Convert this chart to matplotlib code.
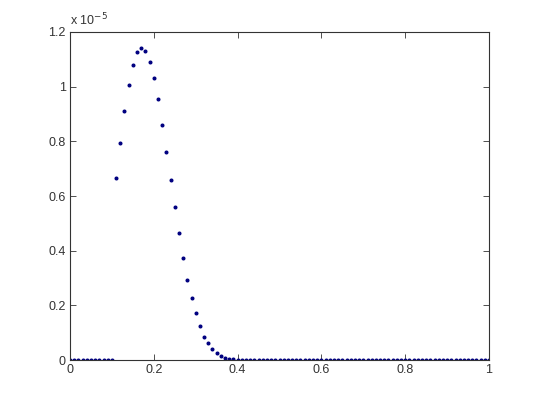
import numpy as np
import matplotlib
matplotlib.use("Agg")
import matplotlib.pyplot as plt
from matplotlib.ticker import FuncFormatter

# x samples (step 0.01) and y values in units of 1e-5
x = np.round(np.arange(0, 101) * 0.01, 2)
y_head = [0.0] * 11
y_peak = [0.665, 0.794, 0.910, 1.007, 1.080, 1.127, 1.143, 1.130, 1.092, 1.033,
          0.954, 0.861, 0.761, 0.660, 0.559, 0.463, 0.372, 0.293, 0.227, 0.171,
          0.124, 0.086, 0.061, 0.039, 0.024, 0.015, 0.008, 0.004, 0.002, 0.001]
y_tail = [0.0] * (101 - 11 - len(y_peak))
y = np.array(y_head + y_peak + y_tail)
scale = 1e-5

x_ticks = [0, 0.2, 0.4, 0.6, 0.8, 1]
y_ticks = [0, 0.2, 0.4, 0.6, 0.8, 1, 1.2]

plt.rcParams["font.family"] = ["Liberation Sans", "DejaVu Sans"]

fig = plt.figure(figsize=(5.4, 4.05), dpi=100)
ax = fig.add_axes([0.1296, 0.111, 0.7760, 0.810])

ax.plot(x, y * scale, linestyle="none", marker=".", markersize=3.8, color="#000080")

ax.set_xlim(0, 1)
ax.set_ylim(0, 1.2 * scale)
ax.set_xticks(x_ticks)
ax.set_yticks([v * scale for v in y_ticks])
ax.xaxis.set_major_formatter(FuncFormatter(lambda v, p: "%g" % round(v, 4)))
ax.yaxis.set_major_formatter(FuncFormatter(lambda v, p: "%g" % round(v / scale, 4)))
ax.tick_params(direction="in", length=4, width=0.6, labelsize=9, colors="#333333",
               top=True, right=True, pad=3)
for s in ax.spines.values():
    s.set_linewidth(0.8)
    s.set_color("#333333")

ax.text(0.0, 1.012, "x 10$^{-5}$", transform=ax.transAxes, fontsize=9,
        color="#333333", ha="left", va="bottom")

fig.savefig("out.png", dpi=100, facecolor="white")
